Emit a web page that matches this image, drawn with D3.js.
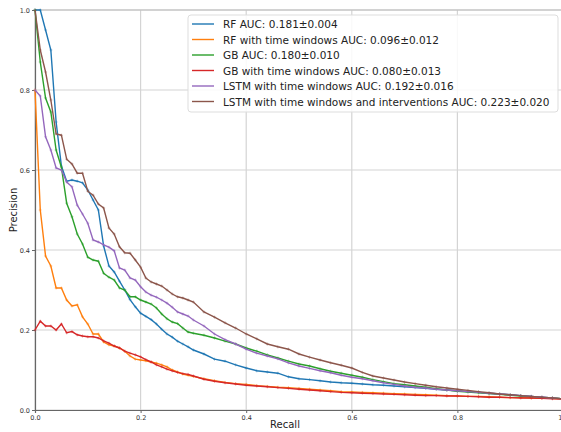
<!DOCTYPE html>
<html>
<head>
<meta charset="utf-8">
<script src="https://cdn.jsdelivr.net/npm/d3@7"></script>
<style>
  body { margin: 0; background: #fff; }
  text { font-family: "DejaVu Sans", sans-serif; }
</style>
</head>
<body>
<div id="chart"></div>
<script>
// recall grid shared by all curves
var recall = [0, 0.01, 0.02, 0.03, 0.04, 0.05, 0.06, 0.07, 0.08, 0.09, 0.10,
  0.11, 0.12, 0.13, 0.14, 0.15, 0.16, 0.17, 0.18, 0.19, 0.20,
  0.21, 0.22, 0.23, 0.24, 0.25, 0.26, 0.27, 0.28, 0.29, 0.30,
  0.32, 0.34, 0.36, 0.38, 0.40, 0.42, 0.44, 0.46, 0.48, 0.50,
  0.52, 0.54, 0.56, 0.58, 0.60, 0.62, 0.64, 0.66, 0.68, 0.70,
  0.72, 0.74, 0.76, 0.78, 0.80, 0.82, 0.84, 0.86, 0.88, 0.90,
  0.92, 0.94, 0.96, 0.98, 1.0];

var rf = [1.0, 1.0, 0.95, 0.90, 0.72, 0.61, 0.572, 0.575, 0.572, 0.568, 0.55,
  0.525, 0.50, 0.41, 0.36, 0.345, 0.322, 0.30, 0.276, 0.258, 0.242,
  0.234, 0.226, 0.215, 0.202, 0.19, 0.182, 0.172, 0.165, 0.158, 0.15,
  0.14, 0.127, 0.122, 0.113, 0.105, 0.098, 0.095, 0.092, 0.083, 0.078,
  0.076, 0.073, 0.07, 0.068, 0.067, 0.065, 0.063, 0.062, 0.06, 0.058,
  0.056, 0.054, 0.052, 0.05, 0.048, 0.046, 0.044, 0.042, 0.04, 0.038,
  0.036, 0.034, 0.032, 0.03, 0.028];

var rfTw = [0.8, 0.5, 0.385, 0.36, 0.305, 0.305, 0.275, 0.26, 0.263, 0.233, 0.215,
  0.19, 0.19, 0.17, 0.163, 0.16, 0.155, 0.147, 0.135, 0.127, 0.125,
  0.123, 0.12, 0.117, 0.113, 0.108, 0.1, 0.095, 0.09, 0.087, 0.084,
  0.078, 0.073, 0.069, 0.066, 0.064, 0.061, 0.059, 0.057, 0.056, 0.054,
  0.052, 0.05, 0.048, 0.046, 0.045, 0.044, 0.043, 0.042, 0.041, 0.04,
  0.039, 0.038, 0.037, 0.036, 0.035, 0.034, 0.034, 0.033, 0.032, 0.031,
  0.031, 0.03, 0.029, 0.029, 0.028];

var gb = [1.0, 0.87, 0.78, 0.745, 0.65, 0.607, 0.517, 0.483, 0.44, 0.415, 0.382,
  0.375, 0.372, 0.342, 0.332, 0.325, 0.305, 0.30, 0.283, 0.283, 0.275,
  0.27, 0.265, 0.255, 0.24, 0.228, 0.22, 0.216, 0.205, 0.195, 0.192,
  0.187, 0.18, 0.172, 0.165, 0.155, 0.147, 0.138, 0.13, 0.122, 0.115,
  0.11, 0.103, 0.097, 0.092, 0.087, 0.082, 0.076, 0.071, 0.066, 0.063,
  0.06, 0.057, 0.053, 0.05, 0.047, 0.045, 0.043, 0.041, 0.039, 0.037,
  0.035, 0.033, 0.031, 0.03, 0.028];

var gbTw = [0.2, 0.222, 0.21, 0.21, 0.2, 0.215, 0.193, 0.196, 0.188, 0.185, 0.183,
  0.183, 0.18, 0.173, 0.167, 0.16, 0.155, 0.147, 0.142, 0.138, 0.133,
  0.126, 0.12, 0.113, 0.108, 0.102, 0.098, 0.094, 0.091, 0.089, 0.085,
  0.077, 0.072, 0.068, 0.065, 0.062, 0.06, 0.058, 0.056, 0.054, 0.052,
  0.05, 0.048, 0.046, 0.044, 0.043, 0.042, 0.041, 0.04, 0.039, 0.038,
  0.037, 0.036, 0.036, 0.035, 0.035, 0.034, 0.033, 0.032, 0.032, 0.031,
  0.03, 0.03, 0.029, 0.028, 0.027];

var lstmTw = [0.8, 0.785, 0.683, 0.65, 0.605, 0.6, 0.57, 0.558, 0.512, 0.49, 0.467,
  0.425, 0.42, 0.413, 0.407, 0.398, 0.355, 0.35, 0.33, 0.325, 0.308,
  0.295, 0.287, 0.282, 0.275, 0.267, 0.257, 0.245, 0.24, 0.235, 0.225,
  0.21, 0.19, 0.176, 0.165, 0.152, 0.142, 0.135, 0.128, 0.118, 0.11,
  0.104, 0.098, 0.093, 0.087, 0.082, 0.078, 0.073, 0.068, 0.064, 0.06,
  0.057, 0.055, 0.052, 0.05, 0.048, 0.046, 0.044, 0.042, 0.04, 0.038,
  0.036, 0.034, 0.032, 0.03, 0.028];

var lstmTwInt = [1.0, 0.9, 0.845, 0.775, 0.69, 0.687, 0.627, 0.615, 0.592, 0.592, 0.547,
  0.537, 0.515, 0.505, 0.455, 0.44, 0.408, 0.393, 0.392, 0.375, 0.357,
  0.33, 0.32, 0.315, 0.31, 0.3, 0.29, 0.283, 0.28, 0.275, 0.27,
  0.245, 0.232, 0.218, 0.205, 0.19, 0.178, 0.165, 0.158, 0.152, 0.14,
  0.132, 0.125, 0.118, 0.112, 0.105, 0.094, 0.085, 0.08, 0.075, 0.07,
  0.066, 0.062, 0.058, 0.055, 0.052, 0.049, 0.046, 0.043, 0.04, 0.038,
  0.036, 0.034, 0.032, 0.03, 0.028];

var labels = ["RF AUC: 0.181\u00b10.004",
  "RF with time windows AUC: 0.096\u00b10.012",
  "GB AUC: 0.180\u00b10.010",
  "GB with time windows AUC: 0.080\u00b10.013",
  "LSTM with time windows AUC: 0.192\u00b10.016",
  "LSTM with time windows and interventions AUC: 0.223\u00b10.020"];
var colors = ["#1f77b4", "#ff7f0e", "#2ca02c", "#d62728", "#9467bd", "#8c564b"];
var seriesValues = [rf, rfTw, gb, gbTw, lstmTw, lstmTwInt];
var ticks = [0, 0.2, 0.4, 0.6, 0.8, 1.0];

var width = 561, height = 432;
var margin = {left: 35, right: -2, top: 10, bottom: 22};

var svg = d3.select("#chart").append("svg")
  .attr("width", width)
  .attr("height", height);

var x = d3.scaleLinear().domain([0, 1]).range([margin.left, width - margin.right]);
var y = d3.scaleLinear().domain([0, 1]).range([height - margin.bottom, margin.top]);

// grid
svg.append("g").selectAll("line.gx").data(ticks).enter().append("line")
  .attr("x1", d => x(d)).attr("x2", d => x(d))
  .attr("y1", y(0)).attr("y2", y(1))
  .attr("stroke", "#d4d4d4").attr("stroke-width", 1.2);
svg.append("g").selectAll("line.gy").data(ticks).enter().append("line")
  .attr("y1", d => y(d)).attr("y2", d => y(d))
  .attr("x1", x(0)).attr("x2", x(1))
  .attr("stroke", "#d4d4d4").attr("stroke-width", 1.2);

// top spine
svg.append("line")
  .attr("x1", x(0)).attr("x2", x(1)).attr("y1", y(1)).attr("y2", y(1))
  .attr("stroke", "#bbb").attr("stroke-width", 1);

// axes
var xAxis = svg.append("g")
  .attr("transform", "translate(0," + y(0) + ")")
  .call(d3.axisBottom(x).tickValues(ticks).tickFormat(d3.format(".1f")).tickSize(3).tickPadding(2));
var yAxis = svg.append("g")
  .attr("transform", "translate(" + x(0) + ",0)")
  .call(d3.axisLeft(y).tickValues(ticks).tickFormat(d3.format(".1f")).tickSize(3).tickPadding(2));
[xAxis, yAxis].forEach(function(a) {
  a.select(".domain").attr("stroke", "#666").attr("stroke-width", 1.2);
  a.selectAll(".tick line").attr("stroke", "#666");
  a.selectAll(".tick text").attr("fill", "#333").style("font-size", "6.5px");
});

svg.append("text")
  .attr("x", (x(0) + 535) / 2 + 0).attr("y", 428)
  .attr("text-anchor", "middle").style("font-size", "10px").attr("fill", "#222")
  .text("Recall");
svg.append("text")
  .attr("transform", "translate(17," + y(0.5) + ") rotate(-90)")
  .attr("text-anchor", "middle").style("font-size", "10px").attr("fill", "#222")
  .text("Precision");

// curves
var line = d3.line()
  .x(function(d) { return x(d[0]); })
  .y(function(d) { return y(d[1]); });

seriesValues.forEach(function(vals, i) {
  var pts = recall.map(function(r, j) { return [r, vals[j]]; });
  var g = svg.append("g");
  g.append("path")
    .datum(pts)
    .attr("d", line)
    .attr("fill", "none")
    .attr("stroke", colors[i])
    .attr("stroke-width", 1.4);
  // small '+' markers
  g.selectAll("path.m").data(pts).enter().append("path")
    .attr("d", function(d) {
      var cx = x(d[0]), cy = y(d[1]);
      return "M" + (cx - 1.5) + "," + cy + "H" + (cx + 1.5) + "M" + cx + "," + (cy - 1.5) + "V" + (cy + 1.5);
    })
    .attr("stroke", colors[i])
    .attr("stroke-width", 0.6)
    .attr("opacity", 0.7);
});

// legend
var legend = svg.append("g");
legend.append("rect")
  .attr("x", 188).attr("y", 15).attr("width", 370).attr("height", 97)
  .attr("rx", 3).attr("fill", "white").attr("fill-opacity", 0.85)
  .attr("stroke", "#ddd");
labels.forEach(function(lab, i) {
  var ly = 24 + i * 15.5;
  legend.append("line")
    .attr("x1", 192).attr("x2", 214).attr("y1", ly).attr("y2", ly)
    .attr("stroke", colors[i]).attr("stroke-width", 1.4);
  legend.append("text")
    .attr("x", 223).attr("y", ly + 4)
    .style("font-size", "10.5px").attr("fill", "#222")
    .text(lab);
});
</script>
</body>
</html>
